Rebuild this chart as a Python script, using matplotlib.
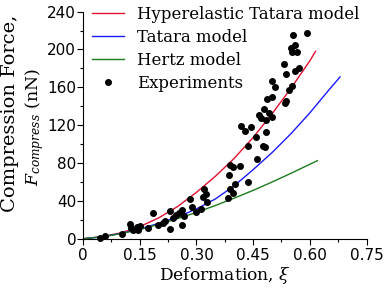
import matplotlib
matplotlib.use('Agg')
import matplotlib.pyplot as plt

plt.rcParams['mathtext.fontset'] = 'dejavuserif'

# model curves
hyper_x = [0, 0.05, 0.10, 0.15, 0.20, 0.25, 0.30, 0.35, 0.40, 0.45, 0.50, 0.55, 0.60, 0.615]
hyper_y = [0, 2.1, 6.2, 12.8, 22, 34, 49, 66, 85, 107, 132, 159, 188, 198]

tatara_x = [0, 0.05, 0.10, 0.15, 0.20, 0.25, 0.30, 0.35, 0.40, 0.45, 0.50, 0.55, 0.60, 0.65, 0.68]
tatara_y = [0, 2.0, 5.6, 10.3, 16.2, 23, 31.5, 42, 56, 73, 91, 111, 133, 157, 171]

hertz_x = [0, 0.05, 0.10, 0.15, 0.20, 0.25, 0.30, 0.35, 0.40, 0.45, 0.50, 0.55, 0.60, 0.62]
hertz_y = [0, 1.9, 5.4, 9.8, 15.2, 21.2, 27.8, 35.1, 42.9, 51.1, 59.9, 69.1, 78.7, 82.5]

# experimental points
exp_x = [0.044, 0.058, 0.102, 0.124, 0.128, 0.133, 0.142, 0.146, 0.150, 0.172,
         0.186, 0.199, 0.212, 0.218, 0.230, 0.230, 0.238, 0.247, 0.254, 0.261,
         0.268, 0.263, 0.283, 0.287, 0.298, 0.312, 0.320, 0.316, 0.326, 0.327,
         0.384, 0.388, 0.396, 0.402, 0.387, 0.388, 0.397, 0.414, 0.437, 0.437,
         0.459, 0.477, 0.481, 0.418, 0.444, 0.428, 0.458, 0.484, 0.466, 0.480,
         0.472, 0.485, 0.492, 0.501, 0.487, 0.499, 0.534, 0.537, 0.501, 0.507,
         0.554, 0.545, 0.531, 0.572, 0.560, 0.537, 0.551, 0.560, 0.567, 0.554,
         0.555, 0.592]
exp_y = [0.4, 2.9, 5.0, 15.5, 11.3, 8.7, 12.1, 9.2, 13.4, 11.6,
         26.9, 14.5, 16.3, 18.7, 29.6, 10.3, 21.4, 25.1, 27.5, 30.3,
         24.0, 14.0, 41.7, 33.2, 28.5, 31.1, 52.5, 44.6, 46.9, 38.8,
         43.3, 52.2, 48.3, 57.5, 67.3, 77.4, 75.5, 77.2, 59.6, 98.3,
         84.0, 98.3, 96.6, 119.5, 117.8, 113.9, 107.2, 113.1, 130.8, 136.9,
         128.1, 125.0, 132.6, 129.0, 147.5, 150.1, 143.5, 145.6, 166.7, 159.9,
         161.4, 157.2, 184.2, 180.2, 176.8, 173.6, 201.3, 204.8, 197.7, 197.5,
         215.7, 217.2]

xticks = [0, 0.15, 0.30, 0.45, 0.60, 0.75]
xtick_labels = ['0', '0.15', '0.30', '0.45', '0.60', '0.75']
yticks = [0, 40, 80, 120, 160, 200, 240]

fig = plt.figure(figsize=(3.92, 2.93), dpi=100)
ax = fig.add_axes([0.212, 0.1853, 0.723, 0.775])

ax.plot(hyper_x, hyper_y, color='#e0102e', lw=1.0, label='Hyperelastic Tatara model')
ax.plot(tatara_x, tatara_y, color='#1a1aff', lw=1.0, label='Tatara model')
ax.plot(hertz_x, hertz_y, color='#1e7a1e', lw=1.0, label='Hertz model')
ax.plot(exp_x, exp_y, 'o', color='black', ms=4, label='Experiments', clip_on=False)

ax.set_xlim(0, 0.75)
ax.set_ylim(0, 240)
ax.set_xticks(xticks)
ax.set_xticklabels(xtick_labels)
ax.set_yticks(yticks)
ax.set_xticks([0.075, 0.225, 0.375, 0.525, 0.675], minor=True)
ax.set_yticks([20, 60, 100, 140, 180, 220], minor=True)
ax.spines['top'].set_visible(False)
ax.spines['right'].set_visible(False)
ax.tick_params(which='major', direction='out', length=4, width=0.8, labelsize=11)
ax.tick_params(which='minor', direction='out', length=2.2, width=0.8)
ax.tick_params(axis='y', pad=1)
ax.tick_params(axis='x', pad=3)

ax.set_xlabel(r'Deformation, $\xi$', family='DejaVu Serif', fontsize=12.3, labelpad=1)
fig.text(0.0255, 0.614, 'Compression Force,', family='DejaVu Serif', fontsize=14,
         rotation=90, ha='center', va='center')
fig.text(0.089, 0.565, r'$F_{compress}$ (nN)', family='DejaVu Serif', fontsize=12.5,
         rotation=90, ha='center', va='center')

leg = ax.legend(loc='upper left', bbox_to_anchor=(0.2347, 0.981), bbox_transform=fig.transFigure,
                frameon=False, borderpad=0, borderaxespad=0, handlelength=1.94,
                handletextpad=0.8, labelspacing=0.37, numpoints=1,
                prop={'family': 'DejaVu Serif', 'size': 11.9})

fig.savefig('out.png', dpi=100)
